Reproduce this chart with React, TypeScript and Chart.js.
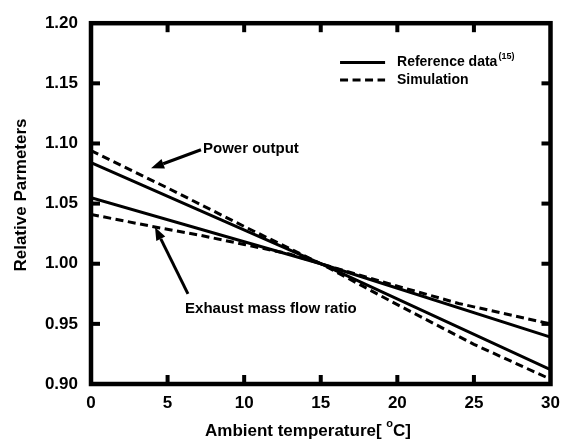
import React, { useEffect, useRef } from "react";
import { Chart, registerables } from "chart.js";

Chart.register(...registerables);

// ---- data ----
const powerRefX = [0, 15, 30];
const powerRefY = [1.084, 1.0, 0.912];
const powerSimX = [0, 5, 10, 15, 20, 25, 30];
const powerSimY = [1.094, 1.063, 1.031, 1.0, 0.966, 0.933, 0.904];
const exhaustRefX = [0, 15, 30];
const exhaustRefY = [1.055, 1.0, 0.939];
const exhaustSimX = [0, 4, 7, 10, 13, 15, 19, 24, 30];
const exhaustSimY = [1.041, 1.031, 1.024, 1.016, 1.008, 1.0, 0.985, 0.967, 0.95];

const xTicks = [0, 5, 10, 15, 20, 25, 30];
const yTicks = [0.9, 0.95, 1.0, 1.05, 1.1, 1.15, 1.2];

const xTitle = "Ambient temperature[ ";
const xTitleSup = "o";
const xTitleEnd = "C]";
const yTitle = "Relative Parmeters";
const legendRef = "Reference data";
const legendRefSup = "(15)";
const legendSim = "Simulation";
const powerLabel = "Power output";
const exhaustLabel = "Exhaust mass flow ratio";

const FONT = "'Liberation Sans', Arial, sans-serif";

const toXY = (xs: number[], ys: number[]) => xs.map((x, i) => ({ x, y: ys[i] }));

const framePlugin = {
  id: "frame",
  afterDatasetsDraw(chart: any) {
    const { ctx, chartArea, scales } = chart;
    const xs = scales.x;
    const ys = scales.y;
    const { left, right, top, bottom } = chartArea;
    ctx.save();
    ctx.fillStyle = "#000";
    ctx.strokeStyle = "#000";
    // frame
    ctx.lineWidth = 4.5;
    ctx.strokeRect(left, top, right - left, bottom - top);
    // ticks
    const tl = 9;
    xTicks.forEach((v) => {
      if (v === xTicks[0] || v === xTicks[xTicks.length - 1]) return;
      const px = xs.getPixelForValue(v);
      ctx.fillRect(px - 2, bottom - tl, 4, tl);
      ctx.fillRect(px - 2, top, 4, tl);
    });
    yTicks.forEach((v, i) => {
      if (i === 0 || i === yTicks.length - 1) return;
      const py = ys.getPixelForValue(v);
      ctx.fillRect(left, py - 2, tl, 4);
      ctx.fillRect(right - tl, py - 2, tl, 4);
    });

    // titles
    ctx.textBaseline = "middle";
    ctx.font = `bold 17px ${FONT}`;
    const w1 = ctx.measureText(xTitle).width;
    ctx.font = `bold 11px ${FONT}`;
    const w2 = ctx.measureText(xTitleSup).width;
    ctx.font = `bold 17px ${FONT}`;
    const w3 = ctx.measureText(xTitleEnd).width;
    const total = w1 + w2 + w3;
    const cx = 308;
    const ty = 431;
    let sx = cx - total / 2;
    ctx.textAlign = "left";
    ctx.fillText(xTitle, sx, ty);
    sx += w1;
    ctx.font = `bold 11px ${FONT}`;
    ctx.fillText(xTitleSup, sx, ty - 7);
    sx += w2;
    ctx.font = `bold 17px ${FONT}`;
    ctx.fillText(xTitleEnd, sx, ty);

    ctx.save();
    ctx.translate(21, 195);
    ctx.rotate(-Math.PI / 2);
    ctx.textAlign = "center";
    ctx.fillText(yTitle, 0, 0);
    ctx.restore();

    // legend
    const lx1 = xs.getPixelForValue(16.26);
    const lx2 = xs.getPixelForValue(19.2);
    const ly1 = ys.getPixelForValue(1.1674);
    const ly2 = ys.getPixelForValue(1.1527);
    const tx = xs.getPixelForValue(19.98);
    ctx.lineWidth = 3;
    ctx.setLineDash([]);
    ctx.beginPath();
    ctx.moveTo(lx1, ly1);
    ctx.lineTo(lx2, ly1);
    ctx.stroke();
    ctx.setLineDash([8, 4.5]);
    ctx.beginPath();
    ctx.moveTo(lx1, ly2);
    ctx.lineTo(lx2, ly2);
    ctx.stroke();
    ctx.setLineDash([]);
    ctx.font = `bold 14px ${FONT}`;
    ctx.textAlign = "left";
    ctx.fillText(legendRef, tx, ly1);
    const rw = ctx.measureText(legendRef).width;
    ctx.font = `bold 9px ${FONT}`;
    ctx.fillText(legendRefSup, tx + rw + 1, ly1 - 6);
    ctx.font = `bold 14px ${FONT}`;
    ctx.fillText(legendSim, tx, ly2);

    // annotations with arrows
    const arrow = (x1: number, y1: number, x2: number, y2: number) => {
      const ang = Math.atan2(y2 - y1, x2 - x1);
      const hl = 13;
      const hw = 5;
      const bx = x2 - hl * Math.cos(ang);
      const by = y2 - hl * Math.sin(ang);
      ctx.lineWidth = 3;
      ctx.beginPath();
      ctx.moveTo(x1, y1);
      ctx.lineTo(bx, by);
      ctx.stroke();
      ctx.beginPath();
      ctx.moveTo(x2, y2);
      ctx.lineTo(bx + hw * Math.sin(ang), by - hw * Math.cos(ang));
      ctx.lineTo(bx - hw * Math.sin(ang), by + hw * Math.cos(ang));
      ctx.closePath();
      ctx.fill();
    };
    ctx.font = `bold 15px ${FONT}`;
    arrow(
      xs.getPixelForValue(7.18), ys.getPixelForValue(1.0948),
      xs.getPixelForValue(3.92), ys.getPixelForValue(1.0794)
    );
    ctx.fillText(powerLabel, xs.getPixelForValue(7.31), ys.getPixelForValue(1.0957));
    arrow(
      xs.getPixelForValue(6.33), ys.getPixelForValue(0.975),
      xs.getPixelForValue(4.18), ys.getPixelForValue(1.0304)
    );
    ctx.fillText(exhaustLabel, xs.getPixelForValue(6.14), ys.getPixelForValue(0.9628));
    ctx.restore();
  },
};

export default function App() {
  const ref = useRef<HTMLCanvasElement | null>(null);
  useEffect(() => {
    if (!ref.current) return;
    const solid = { borderColor: "#000", borderWidth: 3, pointRadius: 0, fill: false, tension: 0 };
    const dashed = { ...solid, borderDash: [8, 4.5] };
    const chart = new Chart(ref.current, {
      type: "line",
      data: {
        datasets: [
          { label: "Power ref", data: toXY(powerRefX, powerRefY), ...solid },
          { label: "Power sim", data: toXY(powerSimX, powerSimY), ...dashed },
          { label: "Exhaust ref", data: toXY(exhaustRefX, exhaustRefY), ...solid },
          { label: "Exhaust sim", data: toXY(exhaustSimX, exhaustSimY), ...dashed },
        ],
      },
      options: {
        animation: false,
        responsive: false,
        events: [],
        layout: { padding: { top: 16, right: 20.5, left: 0, bottom: 0 } },
        plugins: { legend: { display: false }, tooltip: { enabled: false } },
        scales: {
          x: {
            type: "linear",
            min: 0,
            max: 30,
            afterFit: (s: any) => { s.height = 59; },
            afterBuildTicks: (s: any) => { s.ticks = xTicks.map((v) => ({ value: v })); },
            grid: { display: false, drawTicks: false },
            border: { display: false },
            ticks: {
              color: "#000",
              font: { family: FONT, size: 17, weight: "bold" },
              padding: 9,
              maxRotation: 0,
              callback: (v: any) => String(v),
            },
          },
          y: {
            type: "linear",
            min: 0.9,
            max: 1.2,
            afterFit: (s: any) => { s.width = 91; },
            afterBuildTicks: (s: any) => { s.ticks = yTicks.map((v) => ({ value: v })); },
            grid: { display: false, drawTicks: false },
            border: { display: false },
            ticks: {
              color: "#000",
              font: { family: FONT, size: 17, weight: "bold" },
              padding: 13,
              callback: (v: any) => Number(v).toFixed(2),
            },
          },
        },
      },
      plugins: [framePlugin],
    });
    return () => chart.destroy();
  }, []);
  return (
    <div style={{ position: "absolute", left: 0, top: 0, width: 571, height: 443, background: "#fff" }}>
      <canvas ref={ref} width={571} height={443} style={{ width: 571, height: 443 }} />
    </div>
  );
}
